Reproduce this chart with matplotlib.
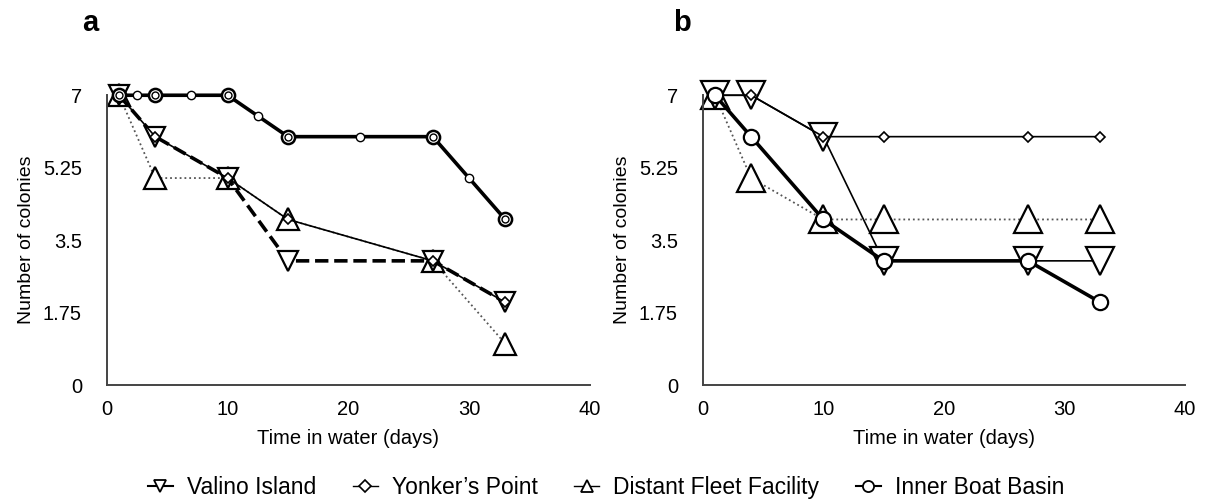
import numpy as np
import matplotlib.pyplot as plt
from matplotlib.lines import Line2D

plt.rcParams['font.family'] = ['Liberation Sans', 'DejaVu Sans']

# sampling days
days = np.array([1, 4, 10, 15, 27, 33])

# panel a
a_valino = np.array([7, 6, 5, 3, 3, 2])
a_yonker = np.array([7, 6, 5, 4, 3, 2])
a_fleet = np.array([7, 5, 5, 4, 3, 1])
a_basin = np.array([7, 7, 7, 6, 6, 4])

# panel b
b_valino = np.array([7, 7, 6, 3, 3, 3])
b_yonker = np.array([7, 7, 6, 6, 6, 6])
b_fleet = np.array([7, 5, 4, 4, 4, 4])
b_basin = np.array([7, 6, 4, 3, 3, 2])

yticks = [0, 1.75, 3.5, 5.25, 7]
ytick_labels = ['0', '1.75', '3.5', '5.25', '7']
xticks = [0, 10, 20, 30, 40]

fig = plt.figure(figsize=(12.07, 5.04), dpi=100)
ax_a = fig.add_axes([0.0886, 0.236, 0.400, 0.575])
ax_b = fig.add_axes([0.5824, 0.236, 0.399, 0.575])

k = 'black'
mk = dict(markerfacecolor='white', markeredgecolor=k, clip_on=False)

# (a)
ax_a.plot(days, a_fleet, ls=':', lw=1.3, color='#555555', marker='^', ms=16, mew=1.6, **mk)
ax_a.plot(days, a_valino, ls='--', lw=2.6, color=k, marker='v', ms=14, mew=1.6, **mk)
ax_a.plot(days, a_yonker, ls='-', lw=1.2, color=k, marker='D', ms=5, mew=1.2, **mk)
ax_a.plot(days, a_basin, ls='-', lw=2.6, color=k, marker='o', ms=9.5, mew=1.8, **mk)
ax_a.plot(days, a_basin, ls='none', marker='o', ms=5, mew=1.0, **mk)
mid_x = (days[:-1] + days[1:]) / 2
mid_y = (a_basin[:-1] + a_basin[1:]) / 2
ax_a.plot(mid_x, mid_y, ls='none', marker='o', ms=6, mew=1.0, **mk)

# (b)
ax_b.plot(days, b_fleet, ls=':', lw=1.3, color='#555555', marker='^', ms=20, mew=1.6, **mk)
ax_b.plot(days, b_valino, ls='-', lw=1.2, color=k, marker='v', ms=20, mew=1.6, **mk)
ax_b.plot(days, b_yonker, ls='-', lw=1.2, color=k, marker='D', ms=5.5, mew=1.2, **mk)
ax_b.plot(days, b_basin, ls='-', lw=2.6, color=k, marker='o', ms=11, mew=1.6, **mk)

for ax, lab, lx in [(ax_a, 'a', 0.075), (ax_b, 'b', 0.565)]:
    ax.set_xlim(0, 40)
    ax.set_ylim(0, 7)
    ax.set_xticks(xticks)
    ax.set_yticks(yticks)
    ax.set_yticklabels(ytick_labels)
    ax.tick_params(axis='both', length=0, labelsize=14.5)
    ax.tick_params(axis='y', pad=18)
    ax.tick_params(axis='x', pad=11)
    for s in ['top', 'right']:
        ax.spines[s].set_visible(False)
    for s in ['left', 'bottom']:
        ax.spines[s].set_color('#444444')
        ax.spines[s].set_linewidth(1.4)
    ax.set_xlabel('Time in water (days)', fontsize=14.5, labelpad=7)
    ax.set_ylabel('Number of colonies', fontsize=14, labelpad=6)
    fig.text(lx, 0.955, lab, fontsize=21, fontweight='bold', ha='center', va='center')

handles = [
    Line2D([], [], color=k, lw=1.5, marker='v', ms=9, mew=1.3, markerfacecolor='white'),
    Line2D([], [], color=k, lw=1.0, marker='D', ms=6, mew=1.2, markerfacecolor='white'),
    Line2D([], [], color=k, lw=1.0, marker='^', ms=9, mew=1.3, markerfacecolor='white'),
    Line2D([], [], color=k, lw=1.5, marker='o', ms=8, mew=1.3, markerfacecolor='white'),
]
names = ['Valino Island', "Yonker\u2019s Point", 'Distant Fleet Facility', 'Inner Boat Basin']
fig.legend(handles, names, loc='center', bbox_to_anchor=(0.502, 0.032), ncol=4, frameon=False,
           fontsize=16.5, handlelength=1.1, handletextpad=0.6, columnspacing=1.6)

fig.savefig('out.png', dpi=100)
